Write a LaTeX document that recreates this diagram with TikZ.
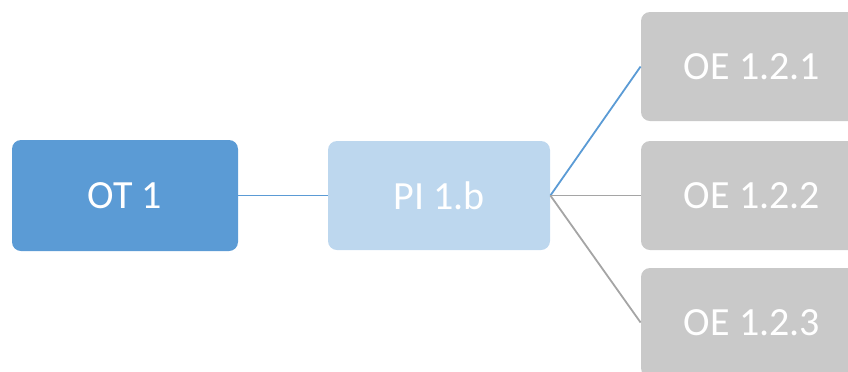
\documentclass[tikz,border=0pt]{standalone}
\usepackage{fontspec}
\setmainfont{Carlito}
\definecolor{otblue}{HTML}{5B9BD5}
\definecolor{pilight}{HTML}{BDD7EE}
\definecolor{oegray}{HTML}{C9C9C9}
\definecolor{linegray}{HTML}{A5A5A5}
\tikzset{
  box/.style={rounded corners=4.5pt, inner sep=0pt, text=white, font=\fontsize{20}{24}\selectfont},
}
\begin{document}
\begin{tikzpicture}[x=0.5pt,y=-0.5pt]
    \useasboundingbox (0,0) rectangle (848,371);
    \clip (0,0) rectangle (848,371);

    %boxes
    \node[box,fill=otblue,minimum width=113pt,minimum height=55.5pt] (ot) at (125,195.5) {OT 1};
    \node[box,fill=pilight,minimum width=111pt,minimum height=54.5pt] (pi) at (439,195.5) {PI 1.b};
    \node[box,fill=oegray,minimum width=111pt,minimum height=54.5pt] (oea) at (752,66.5) {OE 1.2.1};
    \node[box,fill=oegray,minimum width=111pt,minimum height=54.5pt] (oeb) at (752,195.5) {OE 1.2.2};
    \node[box,fill=oegray,minimum width=111pt,minimum height=54.5pt] (oec) at (752,322.5) {OE 1.2.3};

    %links
    \draw[otblue,line width=0.9pt] (ot.east) -- (pi.west);
    \draw[otblue,line width=0.9pt] (pi.east) -- (oea.west);
    \draw[linegray,line width=0.9pt] (pi.east) -- (oeb.west);
    \draw[linegray,line width=0.9pt] (pi.east) -- (oec.west);
\end{tikzpicture}
\end{document}
